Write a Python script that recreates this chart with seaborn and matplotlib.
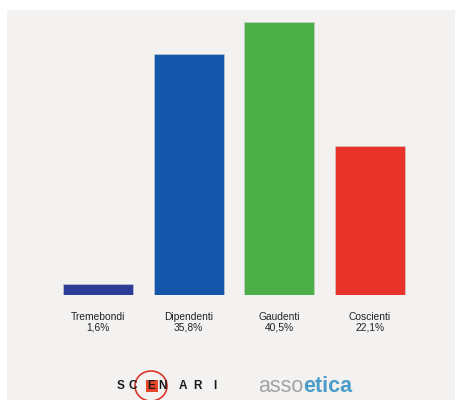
import matplotlib
matplotlib.use("Agg")
import matplotlib.pyplot as plt
import matplotlib.patches as mpatches
import seaborn as sns
import pandas as pd

categories = ["Tremebondi", "Dipendenti", "Gaudenti", "Coscienti"]
values = [1.6, 35.8, 40.5, 22.1]
value_labels = ["1,6%", "35,8%", "40,5%", "22,1%"]
colors = ["#2b3d96", "#1456a9", "#4caf48", "#e8322a"]

df = pd.DataFrame({"cat": categories, "val": values})

sns.set_style("white")
plt.rcParams["font.family"] = ["Liberation Sans", "DejaVu Sans"]

W, H = 461, 400
fig = plt.figure(figsize=(W / 100, H / 100), dpi=100, facecolor="white")

# grey panel
fig.patches.append(mpatches.Rectangle((7 / W, 0), (455 - 7) / W, (400 - 10) / H,
                                      transform=fig.transFigure, facecolor="#f3f2f1",
                                      edgecolor="none", zorder=-5))

left_px, right_px = 43.6, 424.4
ax = fig.add_axes([left_px / W, 105 / H, (right_px - left_px) / W, 273 / H])
ax.set_zorder(2)
ax.patch.set_alpha(0)
sns.barplot(data=df, x="cat", y="val", hue="cat", palette=colors, legend=False,
            width=0.77, ax=ax, saturation=1, edgecolor="#cfcfcf", linewidth=0.4)
ax.set_xlim(-0.6, 3.6)
ax.set_ylim(0, 40.5)
for s in ax.spines.values():
    s.set_visible(False)
ax.set_yticks([])
ax.set_xlabel("")
ax.set_ylabel("")
ax.set_xticks(range(len(categories)))
ax.set_xticklabels([f"{c}\n{v}" for c, v in zip(categories, value_labels)],
                   fontsize=7.4, color="#222222", linespacing=1.05)
ax.tick_params(axis="x", length=0, pad=12)

# SCENARI logo
fig.patches.append(mpatches.Ellipse((151 / W, 1 - 386 / H), 32 / W, 30 / H,
                                    transform=fig.transFigure, facecolor="none",
                                    edgecolor="#d8352a", linewidth=1.2, zorder=2))
fig.patches.append(mpatches.Rectangle((145.5 / W, 1 - 391.5 / H), 12 / W, 12 / H,
                                      transform=fig.transFigure, facecolor="#e8452a",
                                      edgecolor="none", zorder=2))
letters = ["S", "C", "E", "N", "A", "R", "I"]
xs = [121, 132.5, 151.5, 162.5, 182.5, 197.5, 215]
for l, x in zip(letters, xs):
    fig.text(x / W, 1 - 386 / H, l, ha="center", va="center", fontsize=8.5,
             fontweight="bold", color="#1a1a1a", zorder=3)

# assoetica logo
t1 = fig.text(258 / W, 1 - 386 / H, "asso", ha="left", va="center", fontsize=15.5,
              color="#a3a3a3")
fig.canvas.draw()
bb = t1.get_window_extent()
fig.text(bb.x1 / W, 1 - 386 / H, "etica", ha="left", va="center", fontsize=15.5,
         fontweight="bold", color="#4b9cc8")

fig.savefig("out.png", dpi=100, facecolor="white")
